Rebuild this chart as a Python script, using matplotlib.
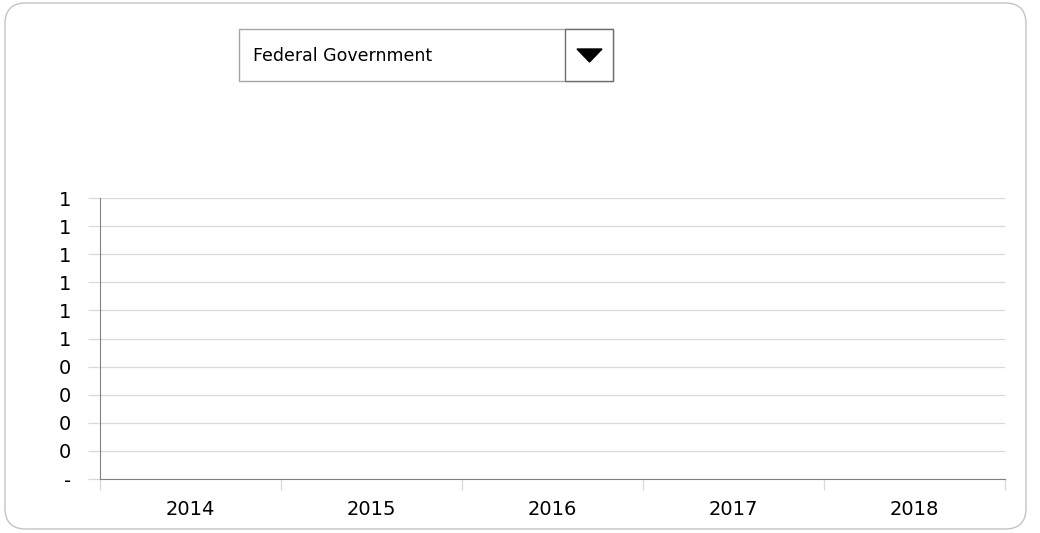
import matplotlib.pyplot as plt
import numpy as np
from matplotlib.patches import FancyBboxPatch, Rectangle, Polygon
from matplotlib.ticker import FixedLocator, FuncFormatter

# chart data (the selected series has no values, so nothing is drawn)
years = ['2014', '2015', '2016', '2017', '2018']
y_ticks = [0.0, 0.1, 0.2, 0.3, 0.4, 0.5, 0.6, 0.7, 0.8, 0.9, 1.0]
selection = 'Federal Government'

W, H = 1040, 533
fig = plt.figure(figsize=(W / 100, H / 100), dpi=100)
fig.patch.set_facecolor('white')

# rounded outer frame
frame = FancyBboxPatch((5 / W, 4 / H), 1021 / W, 526 / H,
                       boxstyle='round,pad=0,rounding_size=0.02',
                       transform=fig.transFigure, facecolor='none',
                       edgecolor='#c4c4c4', linewidth=1.0,
                       mutation_aspect=W / H, zorder=-1)
fig.patches.append(frame)

# plot area
ax = fig.add_axes([100 / W, 1 - 479 / H, 905 / W, 281 / H])
ax.set_facecolor('none')
ax.set_xlim(0, len(years))
ax.set_ylim(0, 1.0)

for s in ['top', 'right']:
    ax.spines[s].set_visible(False)
ax.spines['left'].set_color('#808080')
ax.spines['bottom'].set_color('#808080')

ax.yaxis.set_major_locator(FixedLocator(y_ticks))
def fmt(v, pos):
    if abs(v) < 1e-9:
        return '-'
    return '%d' % int(np.floor(v + 0.5 + 1e-9))
ax.yaxis.set_major_formatter(FuncFormatter(fmt))
ax.set_axisbelow(True)
ax.grid(axis='y', color='#d9d9d9', linewidth=0.9)
ax.tick_params(axis='y', length=9, color='#d9d9d9', width=0.9,
               labelsize=14, pad=12, labelcolor='black')

# category boundaries as major ticks, labels centred via minor ticks
ax.set_xticks(np.arange(len(years) + 1))
ax.set_xticklabels([])
ax.set_xticks(np.arange(len(years)) + 0.5, minor=True)
ax.set_xticklabels(years, minor=True)
ax.tick_params(axis='x', which='major', length=8, color='#d9d9d9', width=0.9)
ax.tick_params(axis='x', which='minor', length=0, labelsize=14, pad=15)

# dropdown selector
fig.patches.append(Rectangle((239 / W, 1 - 81 / H), 374 / W, 52 / H,
                             transform=fig.transFigure, facecolor='white',
                             edgecolor='#a6a6a6', linewidth=1.0))
fig.patches.append(Rectangle((565 / W, 1 - 81 / H), 48 / W, 52 / H,
                             transform=fig.transFigure, facecolor='white',
                             edgecolor='#6e6e6e', linewidth=1.0))
fig.patches.append(Polygon([(577 / W, 1 - 49 / H), (602 / W, 1 - 49 / H),
                            (589.5 / W, 1 - 62 / H)], closed=True,
                           transform=fig.transFigure, facecolor='black',
                           edgecolor='black'))
fig.text(253 / W, 1 - 56 / H, selection, fontsize=12.5, va='center',
         ha='left', color='black')

fig.savefig('out.png', dpi=100, facecolor='white')
